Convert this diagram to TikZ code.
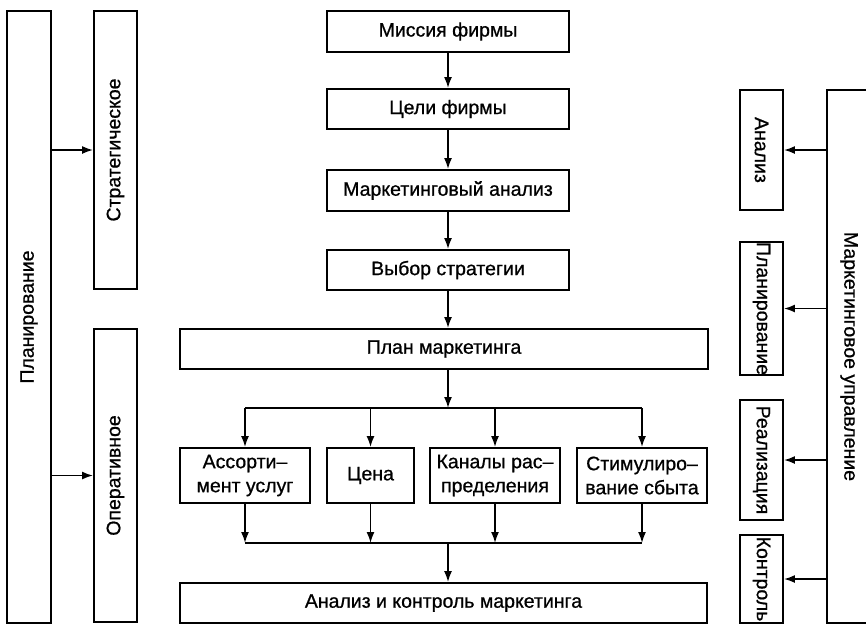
\documentclass[tikz,border=0pt]{standalone}
\usepackage{fontspec}
\setmainfont{Liberation Sans}[FakeBold=0.8,AutoFakeBold=0.8]
\usepackage{graphicx}
\usetikzlibrary{arrows.meta}

\begin{document}
\begin{tikzpicture}[x=1pt,y=-1pt,line width=1.7pt,
		>={Latex[length=11pt,width=8pt]},
		box/.style={draw,line width=1.9pt,inner sep=0pt,align=center,
			font=\fontsize{19.5}{24}\selectfont\bfseries},
		row/.style={box,minimum height=55pt}]
		\useasboundingbox (0,0) rectangle (866,625);
		% left column
		\node[box,minimum width=44pt,minimum height=612pt] (plan) at (29,317) {\rotatebox{90}{Планирование}};
		\node[box,minimum width=43pt,minimum height=278pt] (strat) at (115.5,150) {\rotatebox{90}{Стратегическое}};
		\node[box,minimum width=43pt,minimum height=293pt] (oper) at (115.5,475.5) {\rotatebox{90}{Оперативное}};
		\draw[->] (plan.east |- strat) -- (strat.west);
		\draw[->] (plan.east |- oper) -- (oper.west);
		% centre column
		\node[box,minimum width=242pt,minimum height=41pt] (mission) at (448,31.5) {Миссия фирмы};
		\node[box,minimum width=242pt,minimum height=40pt] (goals) at (448,109) {Цели фирмы};
		\node[box,minimum width=242pt,minimum height=41pt] (analysis) at (448,190.5) {Маркетинговый анализ};
		\node[box,minimum width=242pt,minimum height=40pt] (choice) at (448,270) {Выбор стратегии};
		\node[box,minimum width=528pt,minimum height=40pt] (mplan) at (444,349) {План маркетинга};
		\draw[->] (mission) -- (goals);
		\draw[->] (goals) -- (analysis);
		\draw[->] (analysis) -- (choice);
		\draw[->] (choice) -- (choice |- mplan.north);
		\coordinate (split) at (448,408);
		\coordinate (join) at (448,543);
		\node[row,minimum width=130pt] (range) at (245,475.5) {Ассорти–\\мент услуг};
		\node[row,minimum width=87pt] (price) at (370.5,475.5) {Цена};
		\node[row,minimum width=130pt] (channels) at (495,475.5) {Каналы рас–\\пределения};
		\node[row,minimum width=130pt] (promo) at (642,475.5) {Стимулиро–\\вание сбыта};
		\draw[->] (mplan.south -| split) -- (split);
		\draw (range |- split) -- (promo |- split);
		\draw (range |- join) -- (promo |- join);
		\foreach \n in {range,price,channels,promo} {
			\draw[->] (\n |- split) -- (\n.north);
			\draw[->] (\n.south) -- (\n |- join);
		}
		\node[box,minimum width=527pt,minimum height=40pt] (control) at (443.5,603) {Анализ и контроль маркетинга};
		\draw[->] (join) -- (join |- control.north);
		% right column
		\node[box,minimum width=43pt,minimum height=120pt] (ran) at (761.5,150) {\rotatebox{-90}{Анализ}};
		\node[box,minimum width=43pt,minimum height=121pt] (rplan) at (761.5,308.5) {\rotatebox{-90}{Планирование}};
		\node[box,minimum width=43pt,minimum height=120pt] (rreal) at (761.5,460) {\rotatebox{-90}{Реализация}};
		\node[box,minimum width=43pt,minimum height=88pt] (rcontrol) at (761.5,579) {\rotatebox{-90}{Контроль}};
		\node[box,minimum width=44pt,minimum height=533pt] (manage) at (849,356.5) {\rotatebox{-90}{Маркетинговое управление}};
		\foreach \n in {ran,rplan,rreal,rcontrol}
			\draw[->] (manage.west |- \n) -- (\n.east);
	\end{tikzpicture}
\end{document}
